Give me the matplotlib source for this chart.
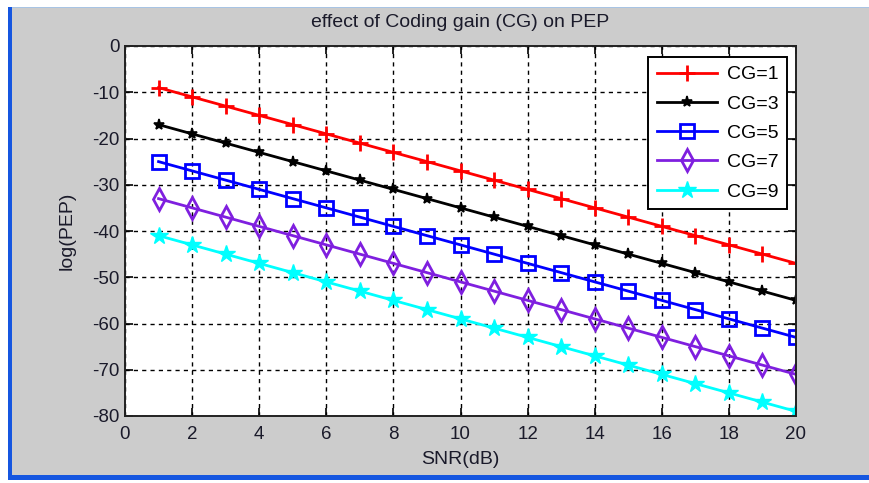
import matplotlib.pyplot as plt
from matplotlib.patches import Rectangle

plt.rcParams['font.family'] = ['Liberation Sans', 'DejaVu Sans']
plt.rcParams['axes.unicode_minus'] = False

snr = [1, 2, 3, 4, 5, 6, 7, 8, 9, 10, 11, 12, 13, 14, 15, 16, 17, 18, 19, 20]

# log(PEP), one list per coding gain
cg1 = [-9, -11, -13, -15, -17, -19, -21, -23, -25, -27,
       -29, -31, -33, -35, -37, -39, -41, -43, -45, -47]
cg3 = [-17, -19, -21, -23, -25, -27, -29, -31, -33, -35,
       -37, -39, -41, -43, -45, -47, -49, -51, -53, -55]
cg5 = [-25, -27, -29, -31, -33, -35, -37, -39, -41, -43,
       -45, -47, -49, -51, -53, -55, -57, -59, -61, -63]
cg7 = [-33, -35, -37, -39, -41, -43, -45, -47, -49, -51,
       -53, -55, -57, -59, -61, -63, -65, -67, -69, -71]
cg9 = [-41, -43, -45, -47, -49, -51, -53, -55, -57, -59,
       -61, -63, -65, -67, -69, -71, -73, -75, -77, -79]

labels = ['CG=1', 'CG=3', 'CG=5', 'CG=7', 'CG=9']
xticks = [0, 2, 4, 6, 8, 10, 12, 14, 16, 18, 20]
yticks = [0, -10, -20, -30, -40, -50, -60, -70, -80]

W, H = 870, 483
fig = plt.figure(figsize=(8.7, 4.83), dpi=100, facecolor='white')


def px_rect(x0, y0, x1, y1, color):
    # rectangle given in image pixels (origin top-left)
    fig.add_artist(Rectangle((x0 / W, 1 - y1 / H), (x1 - x0) / W, (y1 - y0) / H,
                             transform=fig.transFigure, facecolor=color,
                             edgecolor='none', zorder=-10))


# window frame look
px_rect(8, 7, W, 9, '#a8c4e4')
px_rect(8, 8, W, 476, '#cccccc')
px_rect(8, 7, 12, 480, '#1556e0')
px_rect(8, 475, W, 480, '#1556e0')

ax = fig.add_axes([125 / W, 1 - 416 / H, (796 - 125) / W, (416 - 46) / H])
ax.set_facecolor('white')

ax.plot(snr, cg1, '-', color='red', lw=2, marker='+', ms=12, mew=2, label=labels[0])
ax.plot(snr, cg3, '-', color='black', lw=2, marker='*', ms=8, mew=1.2, label=labels[1])
ax.plot(snr, cg5, '-', color='blue', lw=2, marker='s', ms=10, mew=2,
        mfc='none', label=labels[2])
ax.plot(snr, cg7, '-', color='#7f1fdf', lw=2, marker='d', ms=11, mew=2,
        mfc='none', label=labels[3])
ax.plot(snr, cg9, '-', color='cyan', lw=2, marker='*', ms=13, mew=1.0, label=labels[4])

ax.set_xlim(0, 20)
ax.set_ylim(-80, 0)
ax.set_xticks(xticks)
ax.set_yticks(yticks)
ax.tick_params(direction='in', top=True, right=True, length=6, width=1.2,
               labelsize=13.5, labelcolor='#1a1a2a')
ax.tick_params(axis='x', pad=7)
ax.tick_params(axis='y', pad=4)
ax.grid(True, color='black', linestyle=(0, (3, 3)), linewidth=1)
for s in ax.spines.values():
    s.set_linewidth(1.4)
    s.set_color('#222222')

ax.set_title('effect of Coding gain (CG) on PEP', fontsize=14, pad=14, color='#1a1a2a')
ax.set_xlabel('SNR(dB)', fontsize=14, labelpad=6, color='#1a1a2a')
ax.set_ylabel('log(PEP)', fontsize=14, labelpad=12, color='#1a1a2a')

leg = ax.legend(loc='upper right', bbox_to_anchor=(0.9866, 0.970), borderaxespad=0,
                fontsize=14, fancybox=False, framealpha=1, edgecolor='black',
                handlelength=3.1, labelspacing=0.6, borderpad=0.45, handletextpad=0.5)
leg.get_frame().set_linewidth(1.4)

fig.savefig('out.png', dpi=100, facecolor=fig.get_facecolor())
